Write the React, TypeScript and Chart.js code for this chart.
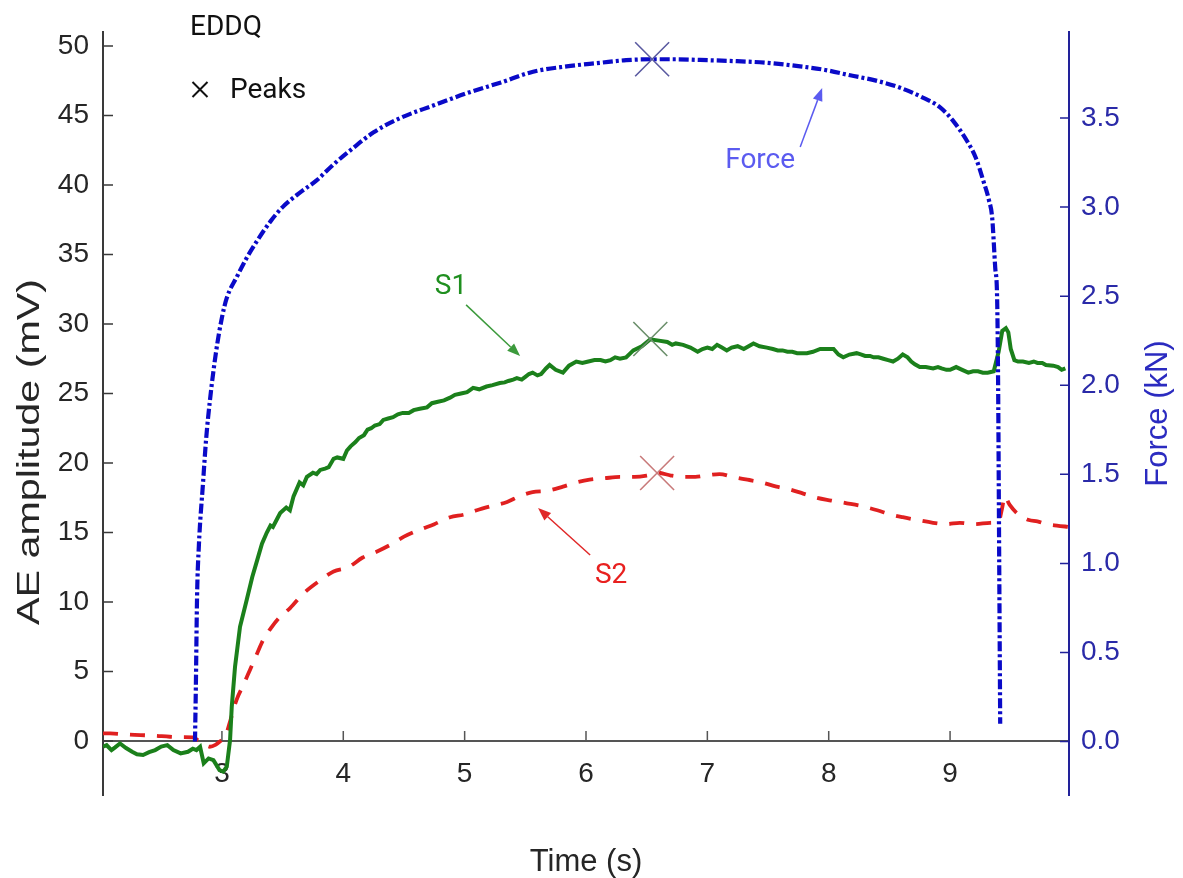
import { useEffect, useRef } from 'react';
import { Chart, registerables } from 'chart.js';

Chart.register(...registerables);

// ---------- data ----------
const S1_T = [2.02, 2.05, 2.09, 2.12, 2.16, 2.21, 2.26, 2.30, 2.35, 2.40, 2.45, 2.50, 2.55, 2.60, 2.66, 2.72, 2.76, 2.79, 2.82, 2.85, 2.89, 2.93, 2.98, 3.01, 3.04, 3.067, 3.081, 3.108, 3.149, 3.204, 3.25, 3.29, 3.33, 3.37, 3.40, 3.42, 3.45, 3.48, 3.53, 3.56, 3.59, 3.64, 3.67, 3.70, 3.75, 3.78, 3.81, 3.85, 3.88, 3.92, 3.95, 4.00, 4.03, 4.06, 4.10, 4.13, 4.17, 4.20, 4.23, 4.26, 4.30, 4.33, 4.37, 4.41, 4.45, 4.49, 4.54, 4.58, 4.63, 4.69, 4.73, 4.78, 4.83, 4.88, 4.92, 4.97, 5.02, 5.07, 5.12, 5.18, 5.23, 5.29, 5.33, 5.36, 5.40, 5.43, 5.47, 5.50, 5.53, 5.56, 5.60, 5.63, 5.67, 5.70, 5.75, 5.81, 5.86, 5.92, 5.97, 6.02, 6.07, 6.12, 6.16, 6.20, 6.24, 6.28, 6.33, 6.39, 6.46, 6.53, 6.60, 6.67, 6.71, 6.74, 6.80, 6.86, 6.92, 6.96, 7.00, 7.04, 7.08, 7.12, 7.16, 7.20, 7.25, 7.30, 7.34, 7.38, 7.43, 7.49, 7.54, 7.58, 7.62, 7.66, 7.70, 7.74, 7.78, 7.82, 7.87, 7.93, 7.98, 8.04, 8.08, 8.12, 8.17, 8.23, 8.27, 8.30, 8.34, 8.37, 8.41, 8.45, 8.49, 8.53, 8.57, 8.61, 8.65, 8.68, 8.71, 8.75, 8.80, 8.86, 8.90, 8.93, 8.97, 9.00, 9.05, 9.10, 9.15, 9.19, 9.23, 9.27, 9.31, 9.36, 9.40, 9.43, 9.46, 9.48, 9.50, 9.53, 9.56, 9.60, 9.65, 9.69, 9.72, 9.76, 9.79, 9.85, 9.89, 9.92, 9.95, 9.98];
const S1_V = [-0.41, -0.3, -0.65, -0.45, -0.17, -0.5, -0.77, -0.95, -1.0, -0.8, -0.65, -0.4, -0.29, -0.65, -0.89, -0.77, -0.55, -0.65, -0.41, -1.6, -1.25, -1.37, -2.09, -2.2, -1.85, 0.07, 2.47, 5.35, 8.22, 10.14, 11.8, 13.0, 14.2, 15.0, 15.5, 15.4, 15.9, 16.4, 16.8, 16.6, 17.6, 18.6, 18.4, 19.0, 19.3, 19.2, 19.5, 19.6, 19.7, 20.3, 20.4, 20.3, 20.9, 21.2, 21.5, 21.8, 22.0, 22.4, 22.5, 22.7, 22.8, 23.1, 23.2, 23.3, 23.5, 23.6, 23.6, 23.8, 23.9, 24.0, 24.3, 24.4, 24.5, 24.7, 24.9, 25.0, 25.1, 25.4, 25.3, 25.5, 25.6, 25.75, 25.8, 25.9, 26.0, 26.1, 26.0, 26.2, 26.4, 26.5, 26.3, 26.4, 26.8, 27.05, 26.7, 26.5, 27.0, 27.3, 27.2, 27.3, 27.4, 27.4, 27.3, 27.4, 27.6, 27.5, 27.6, 28.1, 28.4, 28.9, 28.8, 28.7, 28.5, 28.6, 28.5, 28.3, 28.0, 28.2, 28.3, 28.2, 28.5, 28.3, 28.1, 28.3, 28.4, 28.2, 28.4, 28.6, 28.4, 28.3, 28.2, 28.1, 28.1, 28.0, 28.0, 27.9, 27.9, 27.9, 28.0, 28.2, 28.2, 28.2, 27.8, 27.6, 27.8, 27.9, 27.8, 27.7, 27.7, 27.6, 27.6, 27.5, 27.4, 27.3, 27.5, 27.8, 27.6, 27.3, 27.1, 26.9, 26.9, 26.8, 26.9, 26.8, 26.7, 26.7, 26.9, 26.7, 26.5, 26.6, 26.6, 26.5, 26.5, 26.6, 28.0, 29.5, 29.7, 29.4, 28.2, 27.4, 27.3, 27.3, 27.2, 27.3, 27.2, 27.2, 27.05, 27.0, 26.9, 26.7, 26.8];

const S2_T = [2.02, 2.08, 2.2, 2.33, 2.45, 2.57, 2.68, 2.76, 2.80, 2.85, 2.90, 2.95, 2.98, 3.03, 3.07, 3.12, 3.18, 3.23, 3.29, 3.34, 3.41, 3.48, 3.56, 3.67, 3.80, 3.92, 4.04, 4.16, 4.27, 4.385, 4.50, 4.63, 4.75, 4.88, 5.00, 5.10, 5.22, 5.35, 5.45, 5.56, 5.68, 5.81, 5.92, 6.03, 6.15, 6.28, 6.40, 6.50, 6.59, 6.70, 6.80, 6.90, 6.99, 7.10, 7.21, 7.33, 7.45, 7.57, 7.68, 7.79, 7.90, 8.02, 8.15, 8.27, 8.40, 8.51, 8.61, 8.73, 8.86, 8.97, 9.08, 9.20, 9.33, 9.40, 9.43, 9.45, 9.49, 9.55, 9.60, 9.65, 9.72, 9.80, 9.88, 9.98];
const S2_V = [0.55, 0.55, 0.48, 0.43, 0.38, 0.31, 0.28, 0.26, 0.07, -0.2, -0.41, -0.25, -0.05, 0.4, 1.5, 2.95, 4.1, 5.1, 6.3, 7.27, 8.2, 8.94, 9.55, 10.6, 11.5, 12.2, 12.5, 13.2, 13.6, 14.1, 14.7, 15.2, 15.6, 16.1, 16.3, 16.6, 16.9, 17.2, 17.6, 17.9, 18.0, 18.3, 18.6, 18.8, 18.9, 19.0, 19.0, 19.1, 19.3, 19.1, 19.0, 19.0, 19.1, 19.2, 19.0, 18.8, 18.6, 18.3, 18.1, 17.8, 17.5, 17.3, 17.1, 16.9, 16.6, 16.3, 16.1, 15.9, 15.7, 15.6, 15.7, 15.6, 15.7, 15.8, 16.8, 17.6, 17.0, 16.4, 16.1, 15.9, 15.8, 15.6, 15.5, 15.4];

const FORCE_T = [2.778, 2.785, 2.795, 2.81, 2.844, 2.87, 2.902, 2.95, 3.00, 3.04, 3.124, 3.2, 3.289, 3.40, 3.50, 3.64, 3.78, 3.92, 4.06, 4.25, 4.47, 4.74, 5.02, 5.30, 5.564, 5.84, 6.116, 6.33, 6.545, 6.74, 6.94, 7.21, 7.49, 7.765, 7.97, 8.177, 8.39, 8.589, 8.76, 8.918, 9.03, 9.141, 9.21, 9.273, 9.32, 9.347, 9.372, 9.388, 9.396, 9.405, 9.413];
const FORCE_V = [0.0, 0.3, 0.81, 1.1, 1.45, 1.7, 1.92, 2.18, 2.38, 2.49, 2.61, 2.71, 2.81, 2.92, 3.0, 3.08, 3.15, 3.24, 3.32, 3.42, 3.50, 3.57, 3.64, 3.70, 3.76, 3.79, 3.81, 3.825, 3.83, 3.83, 3.826, 3.82, 3.81, 3.79, 3.77, 3.74, 3.71, 3.67, 3.62, 3.56, 3.48, 3.37, 3.28, 3.15, 3.04, 2.94, 2.66, 2.48, 2.0, 1.0, 0.10];

// peaks: [time, value]
const PEAK_FORCE = [6.545, 3.83];
const PEAK_S1 = [6.53, 28.92];
const PEAK_S2 = [6.586, 19.28];

// axes
const X_RANGE = [2.02, 9.98];
const AE_RANGE = [-3.88, 51.0];
const FORCE_RANGE = [-0.30, 3.983];
const X_TICKS = [3, 4, 5, 6, 7, 8, 9];
const AE_TICKS = [0, 5, 10, 15, 20, 25, 30, 35, 40, 45, 50];
const FORCE_TICKS = [0, 0.5, 1.0, 1.5, 2.0, 2.5, 3.0, 3.5];

// annotations (data coordinates)
const LABEL_TEXT = ['S1', 'S2', 'Force'];
const LABEL_POS = [[4.888, 32.16], [6.207, 11.37], [7.435, 3.219]];
const LABEL_AXIS = ['y', 'y', 'y1'];
const LABEL_COLOR = ['#1f8f1f', '#e8201f', '#5b5bf0'];
const ARROW_FROM = [[5.012, 31.37], [6.034, 13.38], [7.765, 3.337]];
const ARROW_TO = [[5.457, 27.7], [5.605, 16.76], [7.946, 3.669]];
const ARROW_COLOR = ['#3c9a3c', '#e02828', '#5b5bf0'];

// ---------- styles ----------
const TICK_FONT = { family: '"Liberation Sans", Arial, sans-serif', size: 28 };
const LEFT_COLOR = '#262626';
const RIGHT_COLOR = '#2a2aa8';
const RIGHT_AXIS = '#22229a';
const X_AXIS = '#555555';

const pts = (ts: number[], vs: number[]) => ts.map((t, i) => ({ x: t, y: vs[i] }));

const overlay = {
  id: 'overlay',
  afterDraw(chart: any) {
    const { ctx, chartArea: ca, scales } = chart;
    const xs = scales.x, ys = scales.y, fs = scales.y1;
    ctx.save();
    // inward tick marks
    ctx.lineWidth = 1.5;
    ctx.strokeStyle = '#3a3a3a';
    ctx.beginPath();
    for (const v of AE_TICKS) {
      const p = ys.getPixelForValue(v);
      ctx.moveTo(ca.left, p); ctx.lineTo(ca.left + 10, p);
    }
    ctx.stroke();
    ctx.strokeStyle = RIGHT_AXIS;
    ctx.beginPath();
    for (const v of FORCE_TICKS) {
      const p = fs.getPixelForValue(v);
      ctx.moveTo(ca.right, p); ctx.lineTo(ca.right - 9, p);
    }
    ctx.stroke();
    const y0 = ys.getPixelForValue(0);
    ctx.strokeStyle = X_AXIS;
    ctx.beginPath();
    for (const v of X_TICKS) {
      const p = xs.getPixelForValue(v);
      ctx.moveTo(p, y0); ctx.lineTo(p, y0 - 10);
    }
    ctx.stroke();

    // axis titles
    ctx.font = '31px "Liberation Sans", Arial, sans-serif';
    ctx.textAlign = 'center';
    ctx.textBaseline = 'alphabetic';
    ctx.fillStyle = LEFT_COLOR;
    ctx.fillText('Time (s)', (ca.left + ca.right) / 2, chart.height - 7);
    ctx.save();
    ctx.translate(39, 452);
    ctx.rotate(-Math.PI / 2);
    ctx.scale(1.33, 1);
    ctx.fillText('AE amplitude (mV)', 0, 0);
    ctx.restore();
    ctx.save();
    ctx.fillStyle = '#2b2bc0';
    ctx.translate(1167, (ca.top + ca.bottom) / 2);
    ctx.rotate(-Math.PI / 2);
    ctx.fillText('Force (kN)', 0, 0);
    ctx.restore();

    // legend-like text
    ctx.font = '28px Roboto, "Noto Sans", sans-serif';
    ctx.fillStyle = '#111111';
    ctx.textAlign = 'left';
    ctx.fillText('EDDQ', ca.left + 87, ca.top + 3);
    ctx.fillText('Peaks', ca.left + 127, ca.top + 66);
    ctx.strokeStyle = '#111111';
    ctx.lineWidth = 2;
    const cx = ca.left + 97, cy = ca.top + 57.5;
    ctx.beginPath();
    ctx.moveTo(cx - 7.5, cy - 7.5); ctx.lineTo(cx + 7.5, cy + 7.5);
    ctx.moveTo(cx + 7.5, cy - 7.5); ctx.lineTo(cx - 7.5, cy + 7.5);
    ctx.stroke();

    // annotations
    ctx.textAlign = 'center';
    LABEL_TEXT.forEach((t, i) => {
      const sc = scales[LABEL_AXIS[i]];
      ctx.fillStyle = LABEL_COLOR[i];
      ctx.fillText(t, xs.getPixelForValue(LABEL_POS[i][0]), sc.getPixelForValue(LABEL_POS[i][1]));
      const x1 = xs.getPixelForValue(ARROW_FROM[i][0]);
      const y1 = sc.getPixelForValue(ARROW_FROM[i][1]);
      const x2 = xs.getPixelForValue(ARROW_TO[i][0]);
      const y2 = sc.getPixelForValue(ARROW_TO[i][1]);
      const ang = Math.atan2(y2 - y1, x2 - x1);
      const L = 13, W = 5;
      const bx = x2 - L * Math.cos(ang), by = y2 - L * Math.sin(ang);
      ctx.strokeStyle = ARROW_COLOR[i];
      ctx.fillStyle = ARROW_COLOR[i];
      ctx.lineWidth = 1.5;
      ctx.beginPath();
      ctx.moveTo(x1, y1); ctx.lineTo(bx, by);
      ctx.stroke();
      ctx.beginPath();
      ctx.moveTo(x2, y2);
      ctx.lineTo(bx + W * Math.sin(ang), by - W * Math.cos(ang));
      ctx.lineTo(bx - W * Math.sin(ang), by + W * Math.cos(ang));
      ctx.closePath();
      ctx.fill();
    });
    ctx.restore();
  },
};

export default function App() {
  const ref = useRef<HTMLCanvasElement>(null);
  useEffect(() => {
    const peak = (p: number[], axis: string, color: string) => ({
      data: [{ x: p[0], y: p[1] }],
      yAxisID: axis,
      showLine: false,
      pointStyle: 'crossRot',
      pointRadius: 24,
      pointBorderWidth: 1.6,
      borderColor: color,
      pointBorderColor: color,
      backgroundColor: color,
    });
    const chart = new Chart(ref.current as HTMLCanvasElement, {
      type: 'scatter',
      data: {
        datasets: [
          peak(PEAK_FORCE, 'y1', '#5a5aa0'),
          peak(PEAK_S1, 'y', '#6b8f6b'),
          peak(PEAK_S2, 'y', '#c87a7a'),
          {
            label: 'Force',
            data: pts(FORCE_T, FORCE_V),
            yAxisID: 'y1',
            showLine: true,
            borderColor: '#0a0ac8',
            borderWidth: 4.2,
            borderDash: [10, 3, 3, 3],
            pointRadius: 0,
            cubicInterpolationMode: 'monotone',
          },
          {
            label: 'S1',
            data: pts(S1_T, S1_V),
            yAxisID: 'y',
            showLine: true,
            borderColor: '#1b801b',
            borderWidth: 4,
            pointRadius: 0,
            tension: 0,
          },
          {
            label: 'S2',
            data: pts(S2_T, S2_V),
            yAxisID: 'y',
            showLine: true,
            borderColor: '#e02020',
            borderWidth: 3.8,
            borderDash: [15, 12],
            pointRadius: 0,
            cubicInterpolationMode: 'monotone',
          },
        ] as any,
      },
      options: {
        responsive: false,
        animation: false,
        events: [],
        layout: { padding: { top: 32, bottom: 83, left: 0, right: 0 } },
        plugins: { legend: { display: false }, tooltip: { enabled: false } },
        scales: {
          x: {
            type: 'linear',
            position: { y: 0 } as any,
            min: X_RANGE[0],
            max: X_RANGE[1],
            afterBuildTicks: (axis: any) => { axis.ticks = X_TICKS.map((v) => ({ value: v })); },
            grid: { display: false, drawTicks: false },
            border: { display: true, color: X_AXIS, width: 2 },
            ticks: { color: LEFT_COLOR, font: TICK_FONT, padding: 16, maxRotation: 0, autoSkip: false },
          },
          y: {
            type: 'linear',
            position: 'left',
            min: AE_RANGE[0],
            max: AE_RANGE[1],
            afterBuildTicks: (axis: any) => { axis.ticks = AE_TICKS.map((v) => ({ value: v })); },
            afterFit: (s: any) => { s.width = 103; },
            grid: { display: false, drawTicks: false },
            border: { display: true, color: '#3a3a3a', width: 2 },
            ticks: { color: LEFT_COLOR, font: TICK_FONT, padding: 14, autoSkip: false },
          },
          y1: {
            type: 'linear',
            position: 'right',
            min: FORCE_RANGE[0],
            max: FORCE_RANGE[1],
            afterBuildTicks: (axis: any) => { axis.ticks = FORCE_TICKS.map((v) => ({ value: v })); },
            afterFit: (s: any) => { s.width = 114; },
            grid: { display: false, drawTicks: false },
            border: { display: true, color: RIGHT_AXIS, width: 2 },
            ticks: { color: RIGHT_COLOR, font: TICK_FONT, padding: 12, autoSkip: false, callback: (v: any) => Number(v).toFixed(1) },
          },
        },
      },
      plugins: [overlay],
    });
    return () => chart.destroy();
  }, []);
  return (
    <div style={{ position: 'absolute', left: 0, top: 0, width: 1183, height: 878, background: '#ffffff' }}>
      <canvas ref={ref} width={1183} height={878} />
    </div>
  );
}
